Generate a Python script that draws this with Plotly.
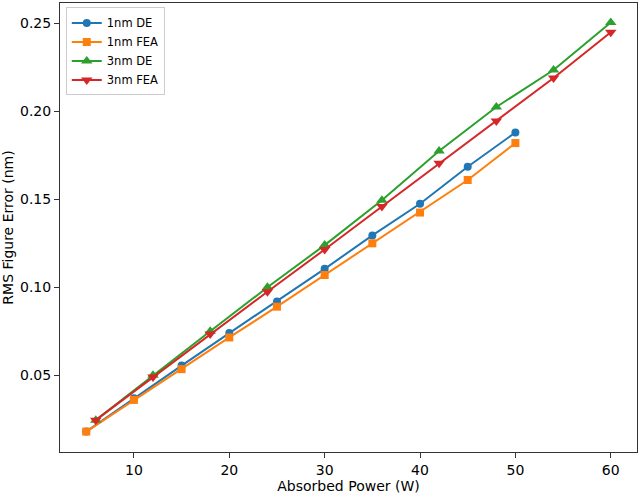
import plotly.graph_objects as go

x_1nm = [5, 10, 15, 20, 25, 30, 35, 40, 45, 50]
de_1nm = [0.018, 0.037, 0.0555, 0.074, 0.092, 0.1105, 0.1295, 0.1475, 0.1685, 0.188]
fea_1nm = [0.018, 0.036, 0.0535, 0.0715, 0.089, 0.107, 0.125, 0.1425, 0.161, 0.182]

x_3nm = [6, 12, 18, 24, 30, 36, 42, 48, 54, 60]
de_3nm = [0.0245, 0.050, 0.075, 0.100, 0.124, 0.1495, 0.1775, 0.2025, 0.2235, 0.2505]
fea_3nm = [0.0245, 0.049, 0.0735, 0.0975, 0.1215, 0.146, 0.1705, 0.1945, 0.219, 0.245]

series = [
    ("1nm DE", x_1nm, de_1nm, "#1f77b4", "circle", 8),
    ("1nm FEA", x_1nm, fea_1nm, "#ff7f0e", "square", 8),
    ("3nm DE", x_3nm, de_3nm, "#2ca02c", "triangle-up", 10),
    ("3nm FEA", x_3nm, fea_3nm, "#d62728", "triangle-down", 10),
]

fig = go.Figure()
for name, xs, ys, color, sym, sz in series:
    fig.add_trace(go.Scatter(
        x=xs, y=ys, name=name, mode="lines+markers",
        line=dict(color=color, width=2),
        marker=dict(color=color, symbol=sym, size=sz),
    ))

axis_common = dict(
    showgrid=False, zeroline=False, showline=True, linecolor="#333333",
    linewidth=1, mirror=True, ticks="outside", ticklen=5, tickcolor="#333333",
    tickfont=dict(size=14, color="black"), automargin=False,
)

fig.update_layout(
    width=640, height=494,
    margin=dict(l=60, r=3, t=3, b=42),
    paper_bgcolor="white", plot_bgcolor="white",
    font=dict(family="DejaVu Sans", size=14, color="black"),
    xaxis=dict(range=[2.25, 62.75], tickvals=[10, 20, 30, 40, 50, 60],
               title=dict(text="Absorbed Power (W)", font=dict(size=14), standoff=0),
               **axis_common),
    yaxis=dict(range=[0.0064, 0.2616], tickvals=[0.05, 0.10, 0.15, 0.20, 0.25],
               tickformat=".2f",
               title=dict(text="RMS Figure Error (nm)", font=dict(size=14), standoff=8),
               **axis_common),
    legend=dict(x=0.01, y=0.99, xanchor="left", yanchor="top",
                bgcolor="rgba(255,255,255,0.8)", bordercolor="#cccccc", borderwidth=1,
                font=dict(size=11.5), tracegroupgap=0, itemwidth=30),
    showlegend=True,
)

fig.write_html("out.html", config={"displayModeBar": False},
               post_script="document.body.style.margin='0';")
